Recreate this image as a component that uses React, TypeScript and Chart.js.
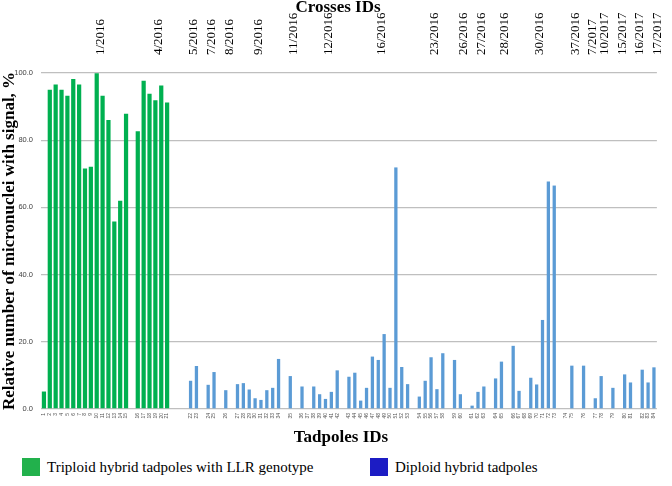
import React, { useEffect, useRef } from "react";
import { Chart, registerables } from "chart.js";

Chart.register(...registerables);

// Tadpole IDs along the bottom axis ("" = empty slot between crosses)
const tadpoleTicks: string[] = [
  "1", "2", "3", "4", "5", "6", "7", "8", "9", "10", "11", "12", "13", "14", "15", "",
  "16", "17", "18", "19", "20", "21", "", "", "",
  "22", "23", "",
  "24", "25", "",
  "26", "",
  "27", "28", "29", "30", "31", "32", "33", "34", "",
  "35", "",
  "36", "37", "38", "39", "40", "41", "42", "",
  "43", "44", "45", "46", "47", "48", "49", "50", "51", "52", "53", "",
  "54", "55", "56", "57", "58", "",
  "59", "60", "",
  "61", "62", "63", "",
  "64", "65", "",
  "66", "67", "68", "69", "70", "71", "72", "73", "",
  "74", "75", "",
  "76", "",
  "77", "78", "",
  "79", "",
  "80", "81", "",
  "82", "83", "84",
];

// Tadpoles 1–21
const triploidValues: number[] = [
  5.2, 95.0, 96.6, 95.0, 93.2, 98.2, 96.6, 71.6, 72.1, 99.9, 93.2, 86.0, 55.8, 62.0, 87.9,
  82.7, 97.7, 93.8, 91.9, 96.3, 91.2,
];

// Tadpoles 22–84
const diploidValues: number[] = [
  8.4, 12.8, 7.2, 11.0, 5.6, 7.4, 7.7, 5.8, 3.2, 2.7, 5.6, 6.3, 14.9, 9.8, 6.7, 0, 6.7, 4.4,
  3.0, 5.1, 11.5, 9.6, 10.8, 2.5, 6.3, 15.6, 14.6, 22.3, 6.3, 71.9, 12.5, 7.4, 3.7, 8.4, 15.4,
  5.9, 16.6, 14.6, 4.4, 1.0, 5.1, 6.7, 9.1, 14.1, 18.8, 5.4, 0, 9.3, 7.3, 26.5, 67.7, 66.5, 0,
  12.9, 12.9, 3.2, 9.8, 6.3, 10.3, 7.9, 11.7, 7.9, 12.4,
];

// Cross IDs on the top axis and the slot index where each is written
const crossIds: string[] = [
  "1/2016", "4/2016", "5/2016", "7/2016", "8/2016", "9/2016", "11/2016", "12/2016", "16/2016",
  "23/2016", "26/2016", "27/2016", "28/2016", "30/2016", "37/2016", "7/2017", "10/2017",
  "15/2017", "16/2017", "17/2017",
];
const crossSlots: number[] = [9, 19, 25, 28, 31, 36, 42, 48, 57, 66, 71, 74, 78, 84, 90, 93, 95, 98, 101, 104];

const axisTitles = ["Crosses IDs", "Tadpoles IDs", "Relative number of micronuclei with signal, %"];
const legendLabels = ["Triploid hybrid tadpoles with LLR genotype", "Diploid hybrid tadpoles"];

const serif = "'Liberation Serif', 'Times New Roman', serif";

export default function App() {
  const ref = useRef<HTMLCanvasElement>(null);

  useEffect(() => {
    const tri: (number | null)[] = [];
    const dip: (number | null)[] = [];
    tadpoleTicks.forEach((t) => {
      if (t === "") {
        tri.push(null);
        dip.push(null);
        return;
      }
      const id = Number(t);
      if (id <= triploidValues.length) {
        tri.push(triploidValues[id - 1]);
        dip.push(null);
      } else {
        tri.push(null);
        dip.push(diploidValues[id - triploidValues.length - 1]);
      }
    });
    const topLabels = tadpoleTicks.map(() => "");
    crossSlots.forEach((s, i) => {
      topLabels[s] = crossIds[i];
    });

    const chart = new Chart(ref.current!, {
      type: "bar",
      data: {
        labels: tadpoleTicks,
        datasets: [
          {
            label: legendLabels[0],
            data: tri,
            backgroundColor: "#00b050",
            barPercentage: 0.72,
            categoryPercentage: 1,
            grouped: false,
          },
          {
            label: legendLabels[1],
            data: dip,
            backgroundColor: "#5b9bd5",
            barPercentage: 0.56,
            categoryPercentage: 1,
            grouped: false,
          },
        ],
      },
      options: {
        responsive: false,
        animation: false,
        devicePixelRatio: 1,
        layout: { padding: { left: 0, right: 10, top: 0, bottom: 0 } },
        plugins: { legend: { display: false }, tooltip: { enabled: false } },
        scales: {
          x: {
            position: "bottom",
            offset: true,
            grid: { display: false, drawTicks: false },
            border: { display: false },
            ticks: {
              autoSkip: false,
              minRotation: 90,
              maxRotation: 90,
              padding: 4,
              color: "#555",
              font: { family: "'Liberation Sans', Arial, sans-serif", size: 5 },
            },
            afterFit: (s: any) => {
              s.height = 41;
            },
          },
          x2: {
            type: "category",
            position: "top",
            labels: topLabels,
            offset: true,
            grid: { display: false, drawTicks: false },
            border: { display: false },
            ticks: {
              autoSkip: false,
              minRotation: 90,
              maxRotation: 90,
              padding: 18,
              labelOffset: 19,
              color: "#000",
              font: { family: serif, size: 13, lineHeight: 1.2 },
            },
            afterFit: (s: any) => {
              s.height = 73;
            },
          },
          y: {
            min: 0,
            max: 100,
            grid: { color: "#bfbfbf", lineWidth: 1.3, drawTicks: false },
            border: { display: false },
            ticks: {
              stepSize: 20,
              padding: 8,
              color: "#404040",
              font: { family: "'Liberation Sans', Arial, sans-serif", size: 7.5 },
              callback: (v: any) => Number(v).toFixed(1),
            },
            title: {
              display: true,
              text: axisTitles[2],
              color: "#000",
              font: { family: serif, size: 17, weight: "bold", lineHeight: 1.2 },
              padding: { top: -0.2, bottom: 0 },
            },
            afterFit: (s: any) => {
              s.width = 41;
            },
          },
        },
      },
    } as any);
    return () => chart.destroy();
  }, []);

  const legendText: React.CSSProperties = {
    position: "absolute",
    top: 467,
    transform: "translateY(-50%)",
    font: `15px ${serif}`,
    color: "#000",
    whiteSpace: "nowrap",
    lineHeight: 1,
  };
  const titleText: React.CSSProperties = {
    position: "absolute",
    left: 0,
    width: 676,
    textAlign: "center",
    transform: "translateY(-50%)",
    font: `bold 17px ${serif}`,
    color: "#000",
    whiteSpace: "nowrap",
    lineHeight: 1,
  };

  return (
    <div style={{ position: "fixed", left: 0, top: 0, width: 672, height: 486, background: "#fff", overflow: "hidden" }}>
      <canvas ref={ref} width={672} height={450} style={{ display: "block", width: 672, height: 450 }} />
      <div style={{ ...titleText, top: 6 }}>{axisTitles[0]}</div>
      <div style={{ ...titleText, top: 436, width: 682 }}>{axisTitles[1]}</div>
      <div style={{ position: "absolute", left: 22, top: 458, width: 18, height: 18, background: "#22b14c" }} />
      <span style={{ ...legendText, left: 47 }}>{legendLabels[0]}</span>
      <div style={{ position: "absolute", left: 370, top: 458, width: 18, height: 18, background: "#1c1cc4" }} />
      <span style={{ ...legendText, left: 395 }}>{legendLabels[1]}</span>
    </div>
  );
}
